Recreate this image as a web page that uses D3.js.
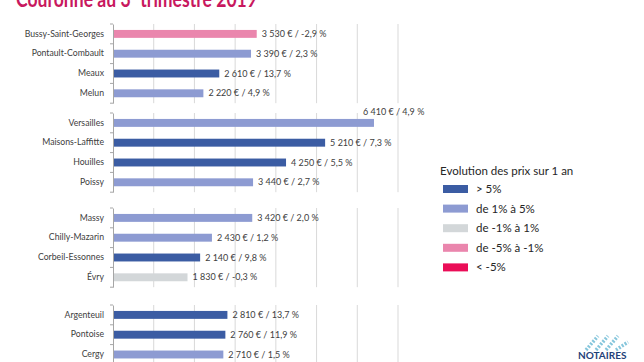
<!DOCTYPE html>
<html>
<head>
<meta charset="utf-8">
<script src="https://cdn.jsdelivr.net/npm/d3@7"></script>
<style>
  body { margin: 0; background: #fff; }
  svg text { font-family: Lato, "Open Sans", sans-serif; }
</style>
</head>
<body>
<div id="chart"></div>
<script>
// data
var cities = ['Bussy-Saint-Georges', 'Pontault-Combault', 'Meaux', 'Melun',
              'Versailles', 'Maisons-Laffitte', 'Houilles', 'Poissy',
              'Massy', 'Chilly-Mazarin', 'Corbeil-Essonnes', 'Évry',
              'Argenteuil', 'Pontoise', 'Cergy'];
var prices = [3530, 3390, 2610, 2220,
              6410, 5210, 4250, 3440,
              3420, 2430, 2140, 1830,
              2810, 2760, 2710];
var evolutions = [-2.9, 2.3, 13.7, 4.9,
                  4.9, 7.3, 5.5, 2.7,
                  2.0, 1.2, 9.8, -0.3,
                  13.7, 11.9, 1.5];
var groups = [0, 0, 0, 0, 1, 1, 1, 1, 2, 2, 2, 2, 3, 3, 3];
var gridTicks = [1000, 2000, 3000, 4000, 5000, 6000, 7000];

var legendTitle = 'Evolution des prix sur 1 an';
var legendLabels = ['> 5%', 'de 1% à 5%', 'de -1% à 1%', 'de -5% à -1%', '< -5%'];
var legendColors = ['#3b5ca3', '#8d9bd2', '#d3d7d9', '#ea86ad', '#ea0d57'];

var width = 644, height = 362;

var svg = d3.select('#chart').append('svg')
    .attr('width', width)
    .attr('height', height);

// title, mostly cut off at the top (as in the source)
var title = svg.append('text')
    .attr('x', 16)
    .attr('y', 7)
    .attr('font-size', '23px')
    .attr('font-weight', 'bold')
    .attr('fill', '#c8185e')
    .attr('textLength', 241)
    .attr('lengthAdjust', 'spacingAndGlyphs');
title.append('tspan').text('Couronne au 3');
title.append('tspan').attr('dy', -8).attr('font-size', '13px').text('e');
title.append('tspan').attr('dy', 8).text(' trimestre 2019');

var x = d3.scaleLinear().domain([0, 7000]).range([113, 398]);

var color = d3.scaleThreshold()
    .domain([-5, -1, 1, 5])
    .range(['#ea0d57', '#ea86ad', '#d3d7d9', '#8d9bd2', '#3b5ca3']);

var fr = d3.formatLocale({ decimal: ',', thousands: ' ', grouping: [3], currency: ['', ' €'], minus: '-' });
var fmtPrice = fr.format(',');
var fmtEvo = fr.format('.1f');

var data = cities.map(function(c, i) {
  return { city: c, price: prices[i], evo: evolutions[i], group: groups[i] };
});

// panel vertical extents
var panelTops = [24, 113, 208, 305];

panelTops.forEach(function(top, g) {
  var rows = data.filter(function(d) { return d.group === g; });
  var y = d3.scaleBand()
      .domain(rows.map(function(d) { return d.city; }))
      .range([top, top + rows.length * 19.8])
      .paddingInner(0.6)
      .paddingOuter(0.3);

  var panel = svg.append('g');

  // gridlines
  panel.selectAll('line.grid')
      .data(gridTicks)
      .enter().append('line')
      .attr('x1', function(d) { return x(d); })
      .attr('x2', function(d) { return x(d); })
      .attr('y1', y.range()[0])
      .attr('y2', y.range()[1])
      .attr('stroke', '#d9d9d9')
      .attr('stroke-width', 1);

  // bars
  panel.selectAll('rect')
      .data(rows)
      .enter().append('rect')
      .attr('x', x(0))
      .attr('y', function(d) { return y(d.city); })
      .attr('width', function(d) { return x(d.price) - x(0); })
      .attr('height', y.bandwidth())
      .attr('fill', function(d) { return color(d.evo); });

  // value labels
  panel.selectAll('text.val')
      .data(rows)
      .enter().append('text')
      .attr('class', 'val')
      .attr('x', function(d) { return d.price > 6000 ? x(d.price) - 11 : x(d.price) + 5; })
      .attr('y', function(d) {
        var c = y(d.city) + y.bandwidth() / 2;
        return d.price > 6000 ? c - 11 : c;
      })
      .attr('dy', '0.35em')
      .attr('font-size', '9px')
      .attr('fill', '#404040')
      .text(function(d) { return fmtPrice(d.price) + ' € / ' + fmtEvo(d.evo) + ' %'; });

  // category axis
  var axis = panel.append('g')
      .attr('transform', 'translate(' + x(0) + ',0)')
      .call(d3.axisLeft(y).tickSize(0).tickPadding(9));
  axis.select('.domain').attr('stroke', '#a6a6a6');
  axis.selectAll('text')
      .attr('font-size', '8.7px')
      .attr('fill', '#404040')
      .attr('font-family', 'Lato, sans-serif');

  // small ticks at band boundaries
  var bounds = rows.map(function(d) { return y(d.city) - y.step() * y.paddingInner() / 2; });
  bounds.push(y.range()[1]);
  bounds[0] = y.range()[0];
  panel.selectAll('line.tk')
      .data(bounds)
      .enter().append('line')
      .attr('x1', x(0) - 3)
      .attr('x2', x(0))
      .attr('y1', function(d) { return d; })
      .attr('y2', function(d) { return d; })
      .attr('stroke', '#a6a6a6');
});

// legend
var legend = svg.append('g');
legend.append('text')
    .attr('x', 440)
    .attr('y', 175)
    .attr('font-size', '11.5px')
    .attr('fill', '#262626')
    .text(legendTitle);

var item = legend.selectAll('g.item')
    .data(legendLabels)
    .enter().append('g')
    .attr('transform', function(d, i) { return 'translate(443,' + (185 + i * 19.6) + ')'; });
item.append('rect')
    .attr('width', 25)
    .attr('height', 8)
    .attr('fill', function(d, i) { return legendColors[i]; });
item.append('text')
    .attr('x', 33)
    .attr('y', 4)
    .attr('dy', '0.35em')
    .attr('font-size', '11.5px')
    .attr('fill', '#262626')
    .text(function(d) { return d; });

// notaires logo, bottom right
var logo = svg.append('g');
logo.selectAll('line')
    .data([0, 1, 2, 3])
    .enter().append('line')
    .attr('x1', function(d) { return 586 + d * 10; })
    .attr('y1', 350)
    .attr('x2', function(d) { return 598 + d * 10; })
    .attr('y2', function(d) { return d === 3 ? 342 : 336; })
    .attr('stroke', '#86c6dc')
    .attr('stroke-width', 3.5)
    .attr('stroke-dasharray', '2,1.5');
logo.append('text')
    .attr('x', 578)
    .attr('y', 359)
    .attr('font-size', '10px')
    .attr('font-weight', 'bold')
    .attr('fill', '#1f3f78')
    .text('NOTAIRES');
</script>
</body>
</html>
